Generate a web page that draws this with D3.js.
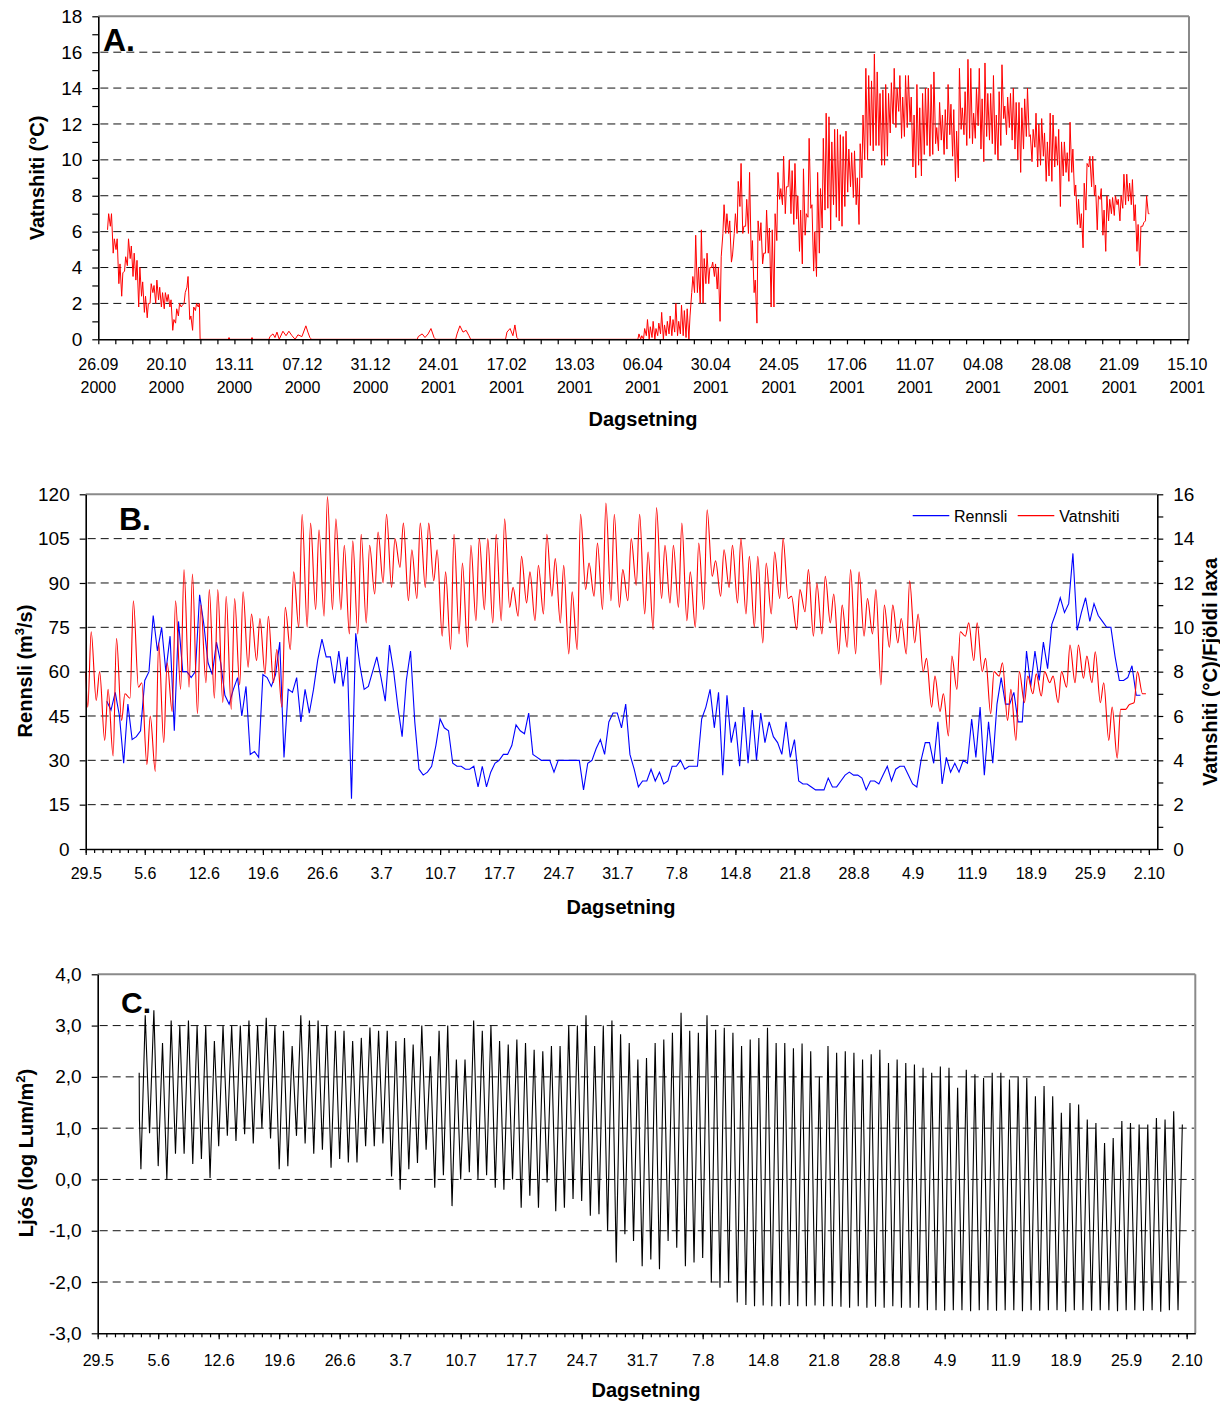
<!DOCTYPE html>
<html><head><meta charset="utf-8">
<script src="https://cdn.jsdelivr.net/npm/d3@7"></script>
<style>body{margin:0;background:#fff}svg{display:block}</style>
</head><body>
<svg id="c" width="1220" height="1405"></svg>
<script>
// ================= DATA =================
// Panel A: water temperature, day 0 = 26.09.2000. Daily min / max (°C)
const AUTUMN_START = 3;
const autumnMin = [6.1,6.3,4.8,5.0,3.1,2.4,3.8,4.1,4.5,3.5, 3.3,1.8,2.4,1.5,1.2,2.0,2.6,2.0,2.2,1.8, 1.7,2.1,1.8,0.5,0.9,1.3,1.8,2.0,2.9,1.1, 0.5,1.6,1.8];
const autumnMax = [7.0,7.0,5.6,5.6,4.2,3.7,4.6,5.6,5.2,4.8, 4.4,4.0,3.2,2.4,2.0,3.1,3.0,3.3,2.9,2.6, 2.6,2.5,2.2,1.1,1.7,2.0,1.9,2.6,3.5,1.3, 1.8,2.0,2.0];
// winter: [day, °C]
const winterBumps = [[35.9,0],[45.8,0],[46.1,0.1],[46.4,0],[53.9,0],[54.2,0.1],[54.5,0],[60.2,0],[60.5,0.15],[61.6,0.3],[62.3,0.1],[63.0,0.4],[63.8,0],[65.1,0.45],[66.2,0.2],[67.2,0.45],[68.3,0.2],[69.4,0],[70.4,0.25],[71.8,0.15],[73.2,0.75],[73.9,0.4],[74.6,0.1],[75.2,0],[112.5,0],[112.8,0.15],[114.2,0.3],[115.2,0.1],[116.3,0.3],[117.3,0.6],[118.4,0.1],[119.0,0],[126.0,0],[126.5,0.3],[127.5,0.75],[128.6,0.4],[129.7,0.5],[130.7,0.2],[131.3,0],[143.6,0],[144.1,0.4],[145.2,0.6],[146.2,0.2],[146.9,0.8],[147.6,0.1],[148.2,0],[189.8,0]];
const SPRING_START = 190;
const springMin = [0,0,0,0.2,0,0.1,0,0.2,0.3,0, 0.2,0.3,0.2,0.4,0.2,0.3,0.2,0.1,0,2.6, 2.6,2.6,2.0,2.0,3.1,3.1,4.0,3.5,2.8,1.0, 5.9,5.9,5.9,4.3,5.9,5.9,7.4,5.9,6.3,5.9, 4.4,2.6,0.9,5.5,4.2,4.8,4.8,1.8,1.8,5.5, 7.8,7.5,7.0,8.5,7.0];
const springMax = [0.3,0.2,0.6,1.1,0.7,1.0,0.6,0.9,1.5,0.8, 1.0,1.3,1.1,2.0,1.0,1.9,1.6,1.7,1.3,3.5, 5.8,4.0,6.1,4.5,4.8,4.0,4.3,4.2,4.0,4.6, 7.5,7.0,6.6,4.7,7.0,8.8,9.8,6.3,7.8,9.3, 5.5,3.3,6.6,6.5,4.8,7.2,6.2,6.1,7.0,9.3, 8.4,10.2,8.5,10.0,9.4];
// summer 29.5 - 2.10 2001 (day 245 in A, day 0 in B)
const SUMMER_START_A = 245;
const summerMin = [6.4,6.7,4.9,4.2,5.8,6.8,7.3,3.8,3.5,4.8, 6.2,7.2,7.3,6.1,7.5,6.8,6.6,6.3,7.4,8.2, 8.5,7.9,7.5,6.4,9.0,10.0,10.0,10.8,10.5,10.8, 10.8,9.7,9.7,10.2,11.5,12.0,11.8,12.7,11.2,11.3, 11.8,12.1,9.6,9.0,9.7,9.1,10.3,10.8,10.2,10.3, 10.9,10.5,11.1,10.3,10.6,11.4,10.2,8.8,9.0,11.7, 11.4,10.8,11.2,10.9,11.2,11.9,10.6,9.9,11.3,11.1, 10.9,10.3,10.0,10.8,12.3,11.4,11.8,11.1,10.6,10.0, 9.3,10.6,11.3,11.3,9.9,10.7,9.6,9.7,10.2,8.8, 9.1,8.8,9.6,9.7,7.4,9.1,9.3,8.8,9.3,8.0, 6.4,6.2,5.1,7.2,9.6,8.5,8.0,6.1,7.8,5.8, 4.9,6.6,7.0,6.9,7.5,6.6,7.3,7.5,7.7,7.5, 6.6,4.9,4.1,6.3,6.6,7.0];
const summerMax = [9.8,8.0,7.2,9.5,7.0,11.2,7.5,6.0,9.3,8.4, 11.2,12.6,12.4,11.0,11.7,11.7,11.4,11.3,11.6,10.6, 10.4,10.5,9.0,10.9,12.5,15.1,14.7,14.4,15.9,14.9, 13.7,13.9,14.2,13.7,14.3,15.1,14.0,14.7,13.5,14.7, 14.7,13.5,12.5,14.2,12.9,13.7,14.0,14.0,14.2,14.9, 11.8,13.2,12.5,12.8,14.2,13.1,12.8,11.6,15.1,12.9, 13.8,15.6,15.1,12.6,14.0,15.1,13.4,15.4,13.7,13.7, 14.7,12.5,13.8,15.3,13.0,13.5,13.7,14.0,13.2,13.2, 12.9,13.4,14.0,11.4,11.7,12.6,12.0,12.3,11.5,11.0, 12.6,12.5,11.3,11.7,11.0,11.0,10.4,12.1,10.6,8.6, 7.8,7.0,8.7,9.8,10.2,10.2,8.6,8.0,8.4,7.2, 8.0,7.8,7.9,8.0,7.8,8.0,9.2,9.2,8.7,8.9, 7.5,6.4,6.3,6.5,8.0,7.0];
const tempBLead = 8.0;

// Panel B: discharge (m3/s), every half day from day 2.5 (day 0 = 29.5)
const FLOW_START = 2.5;
const flow = [50,47,53,45,29,49,37,38,40,57, 60,79,67,75,60,72,40,77,60,60, 58,60,86,76,63,59,70,63,52,49, 54,58,45,55,32,33,31,59,58,55, 59,70,31,54,53,58,43,54,46,54, 64,71,65,65,56,67,55,65,17,73, 62,54,55,60,65,58,50,69,60,48, 38,57,67,43,27,25,26,28,35,44,
 41,40,29,28,28,27,27,28,21,28, 21,26,29,30,32,32,35,42,40,39, 46,32,31,30,30,30,26,30,30,30, 30,30,30,20,29,30,34,37,32,43, 46,46,41,49,32,27,21,23,23,27, 23,26,22,23,28,28,30,27,28,28, 28,44,48,54,41,53,25,52,36,43, 28,48,29,47,30,46,36,43,38,36, 32,43,31,37,23,
 22,22,21,20,20,20,24,21,21,23, 25,26,25,25,24,20,23,23,22,25, 28,23,27,28,28,25,22,21,30,36, 36,29,43,22,31,26,29,26,30,29, 44,31,48,25,43,29,49,58,49,49, 53,43,43,67,55,67,57,70,61,76, 80,85,80,83,100,74,80,85,77,83, 79,77,75,75,65,57,57,58,62,52, 52];

// Panel C: light (log Lum/m2), daily max and night minimum from day 5
const LIGHT_START = 5;
const lightLead = [2.08, 1.17];
const lightMax = [3.2,3.3,2.66,3.1,3.0,3.1,3.0,3.0,2.7,3.0, 3.0,3.0,3.1,3.0,3.15,3.0,2.9,2.6,3.2,3.1, 3.1,3.0,2.9,2.9,2.7,2.76,2.96,2.9,2.9,2.7, 2.76,2.63,3.0,2.4,2.9,3.0,2.34,2.34,3.1,2.9, 3.0,2.7,2.63,2.73,2.66,2.53,2.5,2.6,2.6,3.0, 3.0,3.2,2.6,3.0,3.1,2.83,2.66,2.34,2.37,2.66, 2.73,2.86,3.25,2.9,2.86,3.2,2.92,2.96,2.86,2.6, 2.73,2.76,2.96,2.66,2.66,2.56,2.65,2.5,2.0,2.6, 2.47,2.5,2.47,2.34,2.44,2.53,2.27,2.34,2.27,2.24, 2.18,2.08,2.2,2.18,1.79,2.14,2.05,1.98,2.08,2.08, 1.95,2.01,1.98,1.62,1.82,1.62,1.3,1.49,1.46,1.17, 1.1,0.71,0.81,1.14,1.1,1.07,1.07,1.2,1.17,1.33, 1.07];
const lightMin = [0.2,0.9,0.26,0.0,0.5,0.5,0.3,0.4,0.03,0.65, 0.85,0.75,0.88,0.7,1.0,0.8,0.2,0.26,0.85,0.7, 0.5,0.58,0.23,0.4,0.33,0.33,0.65,0.65,0.7,0.06, -0.2,0.2,0.32,0.58,-0.16,0.08,-0.52,0.0,0.14,0.01, 0.08,-0.16,-0.2,0.0,-0.55,-0.32,-0.55,-0.06,-0.62,-0.55, -0.38,-0.42,-0.71,-0.68,-1.0,-1.62,-1.07,-1.2,-1.69,-1.56, -1.75,-1.2,-1.33,-1.69,-1.62,-1.53,-2.01,-2.11,-2.01,-2.4, -2.45,-2.47,-2.46,-2.47,-2.47,-2.45,-2.47,-2.47,-2.46,-2.47, -2.47,-2.48,-2.5,-2.47,-2.5,-2.48,-2.5,-2.47,-2.5,-2.5, -2.5,-2.55,-2.55,-2.56,-2.55,-2.55,-2.57,-2.55,-2.55,-2.56, -2.55,-2.55,-2.57,-2.55,-2.56,-2.55,-2.55,-2.58,-2.55,-2.55, -2.56,-2.55,-2.55,-2.57,-2.55,-2.55,-2.56,-2.55,-2.58,-2.55, -2.55];

// Tick labels
const xLabelsA = [["26.09","2000"],["20.10","2000"],["13.11","2000"],["07.12","2000"],["31.12","2000"],["24.01","2001"],["17.02","2001"],["13.03","2001"],["06.04","2001"],["30.04","2001"],["24.05","2001"],["17.06","2001"],["11.07","2001"],["04.08","2001"],["28.08","2001"],["21.09","2001"],["15.10","2001"]];
const xLabelsBC = ["29.5","5.6","12.6","19.6","26.6","3.7","10.7","17.7","24.7","31.7","7.8","14.8","21.8","28.8","4.9","11.9","18.9","25.9","2.10"];
const yLabelsA = ["0","2","4","6","8","10","12","14","16","18"];
const yLabelsBL = ["0","15","30","45","60","75","90","105","120"];
const yLabelsBR = ["0","2","4","6","8","10","12","14","16"];
const yLabelsC = ["-3,0","-2,0","-1,0","0,0","1,0","2,0","3,0","4,0"];

// ================= DRAW =================
const FONT = "'Liberation Sans', Arial, Helvetica, sans-serif";
const svg = d3.select("#c").attr("font-family", FONT);
const GRID_DASH = "8,5";
const MIN_T = 0.25, MAX_T = 0.65;

function daily(start, mins, maxs, tMin, tMax) {
  const p = [];
  mins.forEach((v, i) => { p.push([start + i + tMin, v]); p.push([start + i + tMax, maxs[i]]); });
  return p;
}

function styleAxis(g, fs) {
  g.attr("font-family", FONT).attr("font-size", fs);
  g.select(".domain").attr("stroke", "#000").attr("stroke-width", 1.6);
  g.selectAll(".tick line").attr("stroke", "#000").attr("stroke-width", 1.2);
  g.selectAll(".tick text").attr("fill", "#000");
}

function grid(g, vals, y, x0, x1) {
  g.append("g").selectAll("line").data(vals).join("line")
    .attr("x1", x0 + 2).attr("x2", x1 - 1)
    .attr("y1", d => y(d)).attr("y2", d => y(d))
    .attr("stroke", "#111").attr("stroke-width", 1).attr("stroke-dasharray", GRID_DASH);
}

function frame(g, x0, x1, y0, y1, right) {
  g.append("line").attr("x1", x0).attr("x2", x1).attr("y1", y1).attr("y2", y1).attr("stroke", "#8a8a8a").attr("stroke-width", 2);
  if (right) g.append("line").attr("x1", x1).attr("x2", x1).attr("y1", y1).attr("y2", y0).attr("stroke", "#8a8a8a").attr("stroke-width", 2);
}

function yTitle(x, y, parts) {
  const t = svg.append("text").attr("transform", `translate(${x},${y}) rotate(-90)`)
    .attr("text-anchor", "middle").attr("font-size", 20).attr("font-weight", "bold").attr("fill", "#000");
  parts.forEach(p => {
    const s = t.append("tspan").text(p.t);
    if (p.sup) s.attr("font-size", 13).attr("dy", -8);
    if (p.after) s.attr("dy", 8);
  });
}

// ---------- Panel A ----------
{
  const x = d3.scaleLinear().domain([0, 384.6]).range([98.3, 1189]);
  const y = d3.scaleLinear().domain([0, 18]).range([339.3, 16.3]);
  const g = svg.append("g");
  grid(g, d3.range(2, 17, 2), y, x(0), x(384.6));
  const pts = [].concat(
    daily(AUTUMN_START, autumnMin, autumnMax, MIN_T, MAX_T),
    winterBumps,
    daily(SPRING_START, springMin, springMax, MIN_T, MAX_T),
    daily(SUMMER_START_A, summerMin, summerMax, MIN_T, MAX_T)
  );
  g.append("path").datum(pts).attr("fill", "none").attr("stroke", "#ff0000").attr("stroke-width", 1)
    .attr("d", d3.line().x(d => x(d[0])).y(d => y(d[1])));
  frame(g, x(0), x(384.6), y(0), y(18), true);
  const ay = g.append("g").attr("transform", `translate(${x(0)},0)`)
    .call(d3.axisLeft(y).tickValues(d3.range(0, 19)).tickFormat(d => d % 2 === 0 ? yLabelsA[d / 2] : "").tickSize(6).tickPadding(10).tickSizeOuter(0));
  styleAxis(ay, 19);
  const ax = g.append("g").attr("transform", `translate(0,${y(0)})`)
    .call(d3.axisBottom(x).tickValues(d3.range(0, 385, 6)).tickFormat("").tickSize(5).tickSizeOuter(0));
  styleAxis(ax, 16);
  const lab = g.append("g").attr("font-size", 16).attr("text-anchor", "middle").attr("fill", "#000");
  xLabelsA.forEach((l, i) => {
    lab.append("text").attr("x", x(i * 24)).attr("y", 370).text(l[0]);
    lab.append("text").attr("x", x(i * 24)).attr("y", 393).text(l[1]);
  });
  g.append("text").attr("x", 643).attr("y", 426).attr("text-anchor", "middle").attr("font-size", 20).attr("font-weight", "bold").text("Dagsetning");
  g.append("text").attr("x", 103).attr("y", 51).attr("font-size", 32).attr("font-weight", "bold").text("A.");
  yTitle(44, 178, [{t: "Vatnshiti (°C)"}]);
}

// ---------- Panel B ----------
{
  const x = d3.scaleLinear().domain([0, 127]).range([85.7, 1157.3]);
  const yl = d3.scaleLinear().domain([0, 120]).range([849, 494.3]);
  const yr = d3.scaleLinear().domain([0, 16]).range([849, 494.3]);
  const g = svg.append("g");
  grid(g, d3.range(15, 106, 15), yl, x(0), x(127));
  const flowPts = flow.map((v, i) => [FLOW_START + i * 0.5, v]);
  g.append("path").datum(flowPts).attr("fill", "none").attr("stroke", "#0000ff").attr("stroke-width", 1.1)
    .attr("d", d3.line().x(d => x(d[0])).y(d => yl(d[1])));
  const tPts = [[0, tempBLead]].concat(daily(0, summerMin, summerMax, MIN_T, MAX_T));
  g.append("path").datum(tPts).attr("fill", "none").attr("stroke", "#ff0000").attr("stroke-width", 1.1)
    .attr("d", d3.line().curve(d3.curveMonotoneX).x(d => x(d[0])).y(d => yr(d[1])));
  frame(g, x(0), x(127), yl(0), yl(120), false);
  const al = g.append("g").attr("transform", `translate(${x(0)},0)`)
    .call(d3.axisLeft(yl).tickValues(d3.range(0, 121, 15)).tickFormat((d, i) => yLabelsBL[i]).tickSize(6).tickPadding(10).tickSizeOuter(0));
  styleAxis(al, 19);
  const ar = g.append("g").attr("transform", `translate(${x(127)},0)`)
    .call(d3.axisRight(yr).tickValues(d3.range(0, 17)).tickFormat(d => d % 2 === 0 ? yLabelsBR[d / 2] : "").tickSize(6).tickPadding(10).tickSizeOuter(0));
  styleAxis(ar, 19);
  const axm = g.append("g").attr("transform", `translate(0,${yl(0)})`)
    .call(d3.axisBottom(x).tickValues(d3.range(0, 127)).tickFormat("").tickSize(4).tickSizeOuter(0));
  styleAxis(axm, 16);
  const axM = g.append("g").attr("transform", `translate(0,${yl(0)})`)
    .call(d3.axisBottom(x).tickValues(d3.range(0, 127, 7)).tickFormat((d, i) => xLabelsBC[i]).tickSize(6).tickPadding(13).tickSizeOuter(0));
  styleAxis(axM, 16);
  axM.select(".domain").remove();
  // legend
  g.append("line").attr("x1", 912.7).attr("x2", 949.3).attr("y1", 515.7).attr("y2", 515.7).attr("stroke", "#0000ff").attr("stroke-width", 1.2);
  g.append("text").attr("x", 954).attr("y", 522).attr("font-size", 16).text("Rennsli");
  g.append("line").attr("x1", 1017.7).attr("x2", 1054.3).attr("y1", 515.7).attr("y2", 515.7).attr("stroke", "#ff0000").attr("stroke-width", 1.2);
  g.append("text").attr("x", 1059.3).attr("y", 522).attr("font-size", 16).text("Vatnshiti");
  g.append("text").attr("x", 621).attr("y", 914).attr("text-anchor", "middle").attr("font-size", 20).attr("font-weight", "bold").text("Dagsetning");
  g.append("text").attr("x", 119).attr("y", 530).attr("font-size", 32).attr("font-weight", "bold").text("B.");
  yTitle(32, 671, [{t: "Rennsli (m"}, {t: "3", sup: true}, {t: "/s)", after: true}]);
  yTitle(1217, 672, [{t: "Vatnshiti (°C)/Fjöldi laxa"}]);
}

// ---------- Panel C ----------
{
  const x = d3.scaleLinear().domain([0, 127]).range([97.7, 1195.3]);
  const y = d3.scaleLinear().domain([-3, 4]).range([1333.3, 974.3]);
  const g = svg.append("g");
  grid(g, d3.range(-2, 4, 1), y, x(0), x(127));
  const pts = [[4.8, lightLead[0]], [4.83, lightLead[1]]];
  lightMin.forEach((v, i) => { pts.push([LIGHT_START + i, v]); pts.push([LIGHT_START + i + 0.5, lightMax[i]]); });
  g.append("path").datum(pts).attr("fill", "none").attr("stroke", "#000").attr("stroke-width", 1.1)
    .attr("d", d3.line().x(d => x(d[0])).y(d => y(d[1])));
  frame(g, x(0), x(127), y(-3), y(4), true);
  const ay = g.append("g").attr("transform", `translate(${x(0)},0)`)
    .call(d3.axisLeft(y).tickValues(d3.range(-3, 5)).tickFormat((d, i) => yLabelsC[i]).tickSize(6).tickPadding(10).tickSizeOuter(0));
  styleAxis(ay, 19);
  const axm = g.append("g").attr("transform", `translate(0,${y(-3)})`)
    .call(d3.axisBottom(x).tickValues(d3.range(0, 127)).tickFormat("").tickSize(4).tickSizeOuter(0));
  styleAxis(axm, 16);
  const axM = g.append("g").attr("transform", `translate(0,${y(-3)})`)
    .call(d3.axisBottom(x).tickValues(d3.range(0, 127, 7)).tickFormat((d, i) => xLabelsBC[i]).tickSize(6).tickPadding(15).tickSizeOuter(0));
  styleAxis(axM, 16);
  axM.select(".domain").remove();
  g.append("text").attr("x", 646).attr("y", 1397).attr("text-anchor", "middle").attr("font-size", 20).attr("font-weight", "bold").text("Dagsetning");
  g.append("text").attr("x", 121).attr("y", 1013).attr("font-size", 30).attr("font-weight", "bold").text("C.");
  yTitle(33, 1153, [{t: "Ljós (log Lum/m"}, {t: "2", sup: true}, {t: ")", after: true}]);
}
</script>
</body></html>
